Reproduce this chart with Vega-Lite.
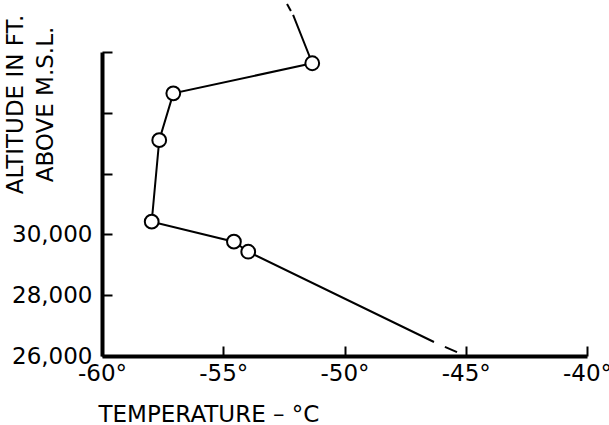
{
  "$schema": "https://vega.github.io/schema/vega-lite/v6.json",
  "width": 485,
  "height": 304,
  "autosize": "none",
  "padding": {"left": 102, "top": 52, "right": 22, "bottom": 69},
  "background": "white",
  "config": {"view": {"stroke": null}},
  "data": {
    "values": [
      {"seg": "main", "o": 1, "T": -52.12, "A": 37220, "pt": false},
      {"seg": "main", "o": 2, "T": -51.33, "A": 35630, "pt": true},
      {"seg": "main", "o": 3, "T": -57.06, "A": 34640, "pt": true},
      {"seg": "main", "o": 4, "T": -57.64, "A": 33100, "pt": true},
      {"seg": "main", "o": 5, "T": -57.95, "A": 30420, "pt": true},
      {"seg": "main", "o": 6, "T": -54.56, "A": 29760, "pt": true},
      {"seg": "main", "o": 7, "T": -53.97, "A": 29430, "pt": true},
      {"seg": "main", "o": 8, "T": -46.31, "A": 26460, "pt": false},
      {"seg": "top", "o": 1, "T": -52.21, "A": 37350, "pt": false},
      {"seg": "top", "o": 2, "T": -52.37, "A": 37580, "pt": false},
      {"seg": "bot", "o": 1, "T": -45.86, "A": 26300, "pt": false},
      {"seg": "bot", "o": 2, "T": -45.36, "A": 26130, "pt": false}
    ]
  },
  "encoding": {
    "x": {
      "field": "T",
      "type": "quantitative",
      "scale": {"domain": [-60, -40], "nice": false, "zero": false},
      "axis": {
        "values": [-60, -55, -50, -45, -40],
        "labelExpr": "datum.value + '°'",
        "labelFont": "DejaVu Sans",
        "labelFontSize": 23,
        "labelColor": "black",
        "labelFlush": false,
        "labelOverlap": false,
        "labelPadding": 16,
        "tickSize": -10,
        "tickWidth": 2,
        "tickColor": "black",
        "domainWidth": 4,
        "domainColor": "black",
        "grid": false,
        "title": "TEMPERATURE – °C",
        "titleFont": "DejaVu Sans",
        "titleFontSize": 23,
        "titleFontWeight": "normal",
        "titleColor": "black",
        "titleAnchor": "start",
        "titleAlign": "left",
        "titleBaseline": "alphabetic",
        "titleX": -4,
        "titleY": 65
      }
    },
    "y": {
      "field": "A",
      "type": "quantitative",
      "scale": {"domain": [26000, 36000], "nice": false, "zero": false},
      "axis": {
        "values": [26000, 28000, 30000, 32000, 34000, 36000],
        "labelExpr": "datum.value <= 30000 ? format(datum.value, ',') : ''",
        "labelFont": "DejaVu Sans",
        "labelFontSize": 23,
        "labelColor": "black",
        "labelFlush": false,
        "labelOverlap": false,
        "labelPadding": 20,
        "tickSize": -10,
        "tickWidth": 2,
        "tickColor": "black",
        "domainWidth": 4,
        "domainColor": "black",
        "grid": false,
        "title": ["ALTITUDE IN FT.", "ABOVE M.S.L."],
        "titleFont": "DejaVu Sans",
        "titleFontSize": 23,
        "titleFontWeight": "normal",
        "titleColor": "black",
        "titleAngle": -90,
        "titleAlign": "center",
        "titleBaseline": "top",
        "titleLineHeight": 30,
        "titleX": -98,
        "titleY": 52
      }
    }
  },
  "layer": [
    {
      "mark": {"type": "line", "color": "black", "strokeWidth": 2},
      "encoding": {
        "detail": {"field": "seg"},
        "order": {"field": "o", "type": "quantitative"}
      }
    },
    {
      "transform": [{"filter": "datum.pt"}],
      "mark": {"type": "point", "shape": "circle", "filled": true, "fill": "white", "stroke": "black", "strokeWidth": 2, "size": 190, "opacity": 1}
    }
  ]
}
